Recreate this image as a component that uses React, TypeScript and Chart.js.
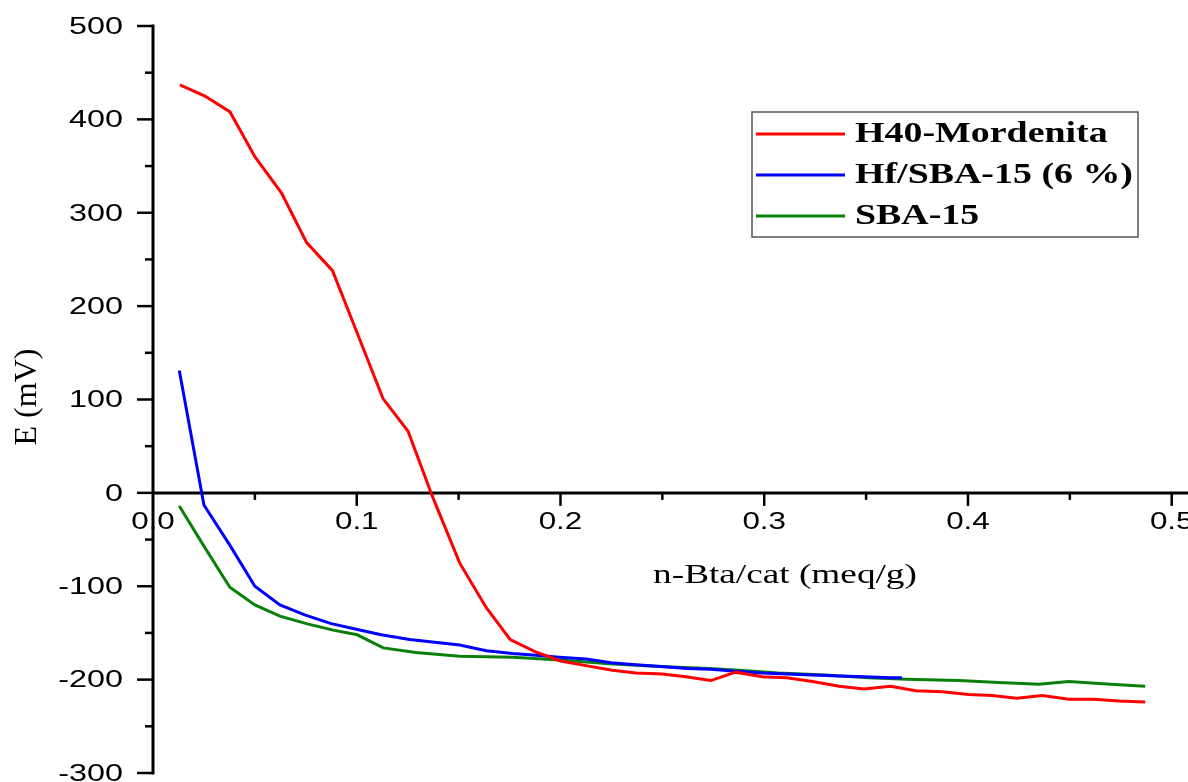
import React, { useEffect, useRef } from "react";
import { Chart, registerables } from "chart.js";

Chart.register(...registerables);

// ---------- data ----------
const seriesLabels = ["H40-Mordenita", "Hf/SBA-15 (6 %)", "SBA-15"];
const seriesColors = ["#ff0000", "#0000ff", "#0a800a"];

const xH40 = [
  0.0132, 0.0255, 0.0378, 0.05, 0.0631, 0.0754, 0.0881, 0.1006, 0.1129, 0.1252,
  0.137, 0.1505, 0.1636, 0.1753, 0.1875, 0.2, 0.2125, 0.2255, 0.237, 0.25,
  0.2615, 0.2738, 0.286, 0.299, 0.311, 0.3237, 0.3368, 0.349, 0.362, 0.3743,
  0.3874, 0.4005, 0.4118, 0.424, 0.4365, 0.4495, 0.4618, 0.474, 0.487,
];
const yH40 = [
  437, 425, 408, 360, 321, 268, 238, 169, 101, 66,
  -3, -75, -123, -157, -170, -180, -185, -190, -193, -194,
  -197, -201, -192, -197, -198, -202, -207, -210, -207, -212,
  -213, -216, -217, -220, -217, -221, -221, -223, -224,
];

const xHf = [
  0.0129, 0.025, 0.0377, 0.05, 0.0623, 0.0748, 0.0875, 0.0998, 0.112, 0.126,
  0.1505, 0.1636, 0.1765, 0.188, 0.1995, 0.2126, 0.2248, 0.237, 0.2495, 0.262,
  0.2738, 0.286, 0.299, 0.311, 0.3237, 0.3368, 0.349, 0.362, 0.3676,
];
const yHf = [
  131, -13, -56, -100, -120, -131, -140, -146, -152, -157,
  -163, -169, -172, -174, -176, -178, -182, -184, -186, -188,
  -189, -191, -193, -194, -195, -196, -197, -198, -198,
];

const xSBA = [
  0.0129, 0.025, 0.0377, 0.05, 0.0623, 0.0753, 0.0884, 0.1002, 0.113, 0.129,
  0.1505, 0.1766, 0.1995, 0.224, 0.2485, 0.273, 0.2877, 0.307, 0.33, 0.351,
  0.37, 0.3956, 0.415, 0.4348, 0.4495, 0.47, 0.487,
];
const ySBA = [
  -14, -57, -101, -120, -132, -140, -147, -152, -166, -171,
  -175, -176, -179, -183, -186, -188, -190, -193, -195, -198,
  -199.5, -201, -203, -205, -202, -205, -207,
];

const xTicks = [0, 0.1, 0.2, 0.3, 0.4, 0.5];
const xTickLabels = ["0.0", "0.1", "0.2", "0.3", "0.4", "0.5"];
const xMinorTicks = [0.05, 0.15, 0.25, 0.35, 0.45];
const yTicks = [-300, -200, -100, 0, 100, 200, 300, 400, 500];
const yTickLabels = ["-300", "-200", "-100", "0", "100", "200", "300", "400", "500"];
const yMinorTicks = [-250, -150, -50, 50, 150, 250, 350, 450];

const xTitle = "n-Bta/cat (meq/g)";
const yTitle = "E (mV)";

// ---------- helpers ----------
function stretchedText(
  ctx: CanvasRenderingContext2D,
  text: string,
  x: number,
  y: number,
  align: "left" | "center" | "right",
  sx: number
) {
  const w = ctx.measureText(text).width * sx;
  let left = x;
  if (align === "center") left = x - w / 2;
  else if (align === "right") left = x - w;
  ctx.save();
  ctx.translate(left, y);
  ctx.scale(sx, 1);
  ctx.textAlign = "left";
  ctx.fillText(text, 0, 0);
  ctx.restore();
}

const axesPlugin = {
  id: "customAxes",
  beforeDatasetsDraw(chart: any) {
    const ctx: CanvasRenderingContext2D = chart.ctx;
    const xs = chart.scales.x;
    const ys = chart.scales.y;
    const area = chart.chartArea;
    const x0 = xs.getPixelForValue(0);
    const y0 = ys.getPixelForValue(0);
    ctx.save();
    ctx.strokeStyle = "#000";
    ctx.lineCap = "butt";
    // y axis line
    ctx.lineWidth = 3;
    ctx.beginPath();
    ctx.moveTo(x0, ys.getPixelForValue(500) - 1.5);
    ctx.lineTo(x0, ys.getPixelForValue(-300) + 1.5);
    ctx.stroke();
    // x axis line at y = 0
    ctx.beginPath();
    ctx.moveTo(x0, y0);
    ctx.lineTo(area.right, y0);
    ctx.stroke();
    // y ticks
    ctx.lineWidth = 2.5;
    yTicks.forEach((v) => {
      const py = ys.getPixelForValue(v);
      ctx.beginPath();
      ctx.moveTo(x0 - 16, py);
      ctx.lineTo(x0, py);
      ctx.stroke();
    });
    yMinorTicks.forEach((v) => {
      const py = ys.getPixelForValue(v);
      ctx.beginPath();
      ctx.moveTo(x0 - 8, py);
      ctx.lineTo(x0, py);
      ctx.stroke();
    });
    // x ticks (downward)
    xTicks.forEach((v) => {
      const px = xs.getPixelForValue(v);
      if (v === 0) return;
      ctx.beginPath();
      ctx.moveTo(px, y0);
      ctx.lineTo(px, y0 + 13);
      ctx.stroke();
    });
    xMinorTicks.forEach((v) => {
      const px = xs.getPixelForValue(v);
      ctx.beginPath();
      ctx.moveTo(px, y0);
      ctx.lineTo(px, y0 + 7);
      ctx.stroke();
    });

    // tick labels
    ctx.fillStyle = "#000";
    ctx.font = "24.5px 'Liberation Sans', Arial, sans-serif";
    ctx.textBaseline = "middle";
    yTicks.forEach((v, i) => {
      const py = ys.getPixelForValue(v);
      stretchedText(ctx, yTickLabels[i], x0 - 30, py + 1, "right", 1.32);
    });
    xTicks.forEach((v, i) => {
      const px = xs.getPixelForValue(v);
      stretchedText(ctx, xTickLabels[i], px, y0 + 29, "center", 1.28);
    });

    // axis titles
    ctx.font = "27px 'Liberation Serif', 'Times New Roman', serif";
    ctx.textBaseline = "alphabetic";
    stretchedText(ctx, xTitle, 785, 583, "center", 1.38);

    ctx.save();
    ctx.translate(36, 397);
    ctx.rotate(-Math.PI / 2);
    ctx.font = "32px 'Liberation Serif', 'Times New Roman', serif";
    ctx.textAlign = "center";
    ctx.textBaseline = "alphabetic";
    ctx.fillText(yTitle, 0, 0);
    ctx.restore();

    ctx.restore();
  },
  afterDraw(chart: any) {
    const ctx: CanvasRenderingContext2D = chart.ctx;
    ctx.save();
    // legend box
    ctx.strokeStyle = "#555";
    ctx.lineWidth = 1.5;
    ctx.strokeRect(752, 112, 386, 125);
    const rows = [134, 175, 216];
    chart.data.datasets.forEach((ds: any, i: number) => {
      const y = rows[i];
      ctx.strokeStyle = ds.borderColor;
      ctx.lineWidth = 3;
      ctx.beginPath();
      ctx.moveTo(756, y);
      ctx.lineTo(845, y);
      ctx.stroke();
      ctx.fillStyle = "#000";
      ctx.font = "bold 28.5px 'Liberation Serif', 'Times New Roman', serif";
      ctx.textBaseline = "middle";
      stretchedText(ctx, ds.label, 855, y + 1, "left", 1.33);
    });
    ctx.restore();
  },
};

function toPoints(xs: number[], ys: number[]) {
  return xs.map((x, i) => ({ x, y: ys[i] }));
}

export default function App() {
  const canvasRef = useRef<HTMLCanvasElement | null>(null);

  useEffect(() => {
    if (!canvasRef.current) return;
    const allX = [xH40, xHf, xSBA];
    const allY = [yH40, yHf, ySBA];
    const chart = new Chart(canvasRef.current, {
      type: "line",
      data: {
        datasets: seriesLabels.map((label, i) => ({
          label,
          data: toPoints(allX[i], allY[i]),
          borderColor: seriesColors[i],
          backgroundColor: seriesColors[i],
          borderWidth: 3,
          pointRadius: 0,
          tension: 0,
          fill: false,
        })),
      },
      options: {
        responsive: false,
        animation: false,
        devicePixelRatio: 1,
        layout: { padding: { left: 153, top: 26, right: 0, bottom: 9 } },
        plugins: {
          legend: { display: false },
          tooltip: { enabled: false },
        },
        scales: {
          x: { type: "linear", min: 0, max: 0.508, display: false },
          y: { type: "linear", min: -300, max: 500, display: false },
        },
      },
      plugins: [axesPlugin],
    });
    return () => chart.destroy();
  }, []);

  return (
    <div style={{ position: "fixed", left: 0, top: 0, width: 1188, height: 782, background: "#fff" }}>
      <canvas ref={canvasRef} width={1188} height={782} style={{ display: "block" }} />
    </div>
  );
}
